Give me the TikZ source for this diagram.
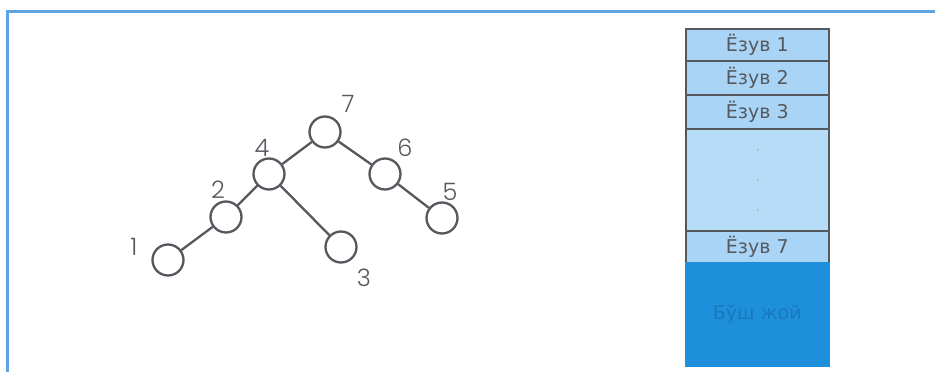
\documentclass[tikz,border=0pt]{standalone}
\usepackage{fontspec}
\setmainfont{DejaVu Sans}
\newfontfamily\digitfont{Poppins Light}
\definecolor{frameblue}{HTML}{5CA4E2}
\definecolor{cellblue}{HTML}{A9D4F6}
\definecolor{cellpale}{HTML}{B6DCF8}
\definecolor{darkcell}{HTML}{1E8FDA}
\definecolor{darktext}{HTML}{1A78BE}
\definecolor{inkgray}{HTML}{55595E}
\begin{document}
\begin{tikzpicture}[x=1pt,y=-1pt,
  treenode/.style={circle,draw=inkgray,line width=2.3pt,minimum size=31pt,inner sep=0pt,fill=white},
  treeedge/.style={draw=inkgray,line width=2.3pt},
  numlabel/.style={text=inkgray,font=\digitfont\fontsize{24}{24}\selectfont,inner sep=0pt},
  cell/.style={draw=inkgray,line width=1.6pt,fill=cellblue,text=inkgray,font=\fontsize{19}{19}\selectfont,minimum width=143pt,inner sep=0pt,anchor=north west},
  dotmark/.style={text=inkgray!40,font=\fontsize{18}{18}\selectfont,inner sep=0pt},
  framestroke/.style={draw=frameblue,line width=3pt}]
\useasboundingbox (0,0) rectangle (935,372);
\fill[white] (0,0) rectangle (935,372);
% frame
\coordinate (ftr) at (935,11);
\coordinate (ftl) at (7,11);
\coordinate (fbl) at (7,372);
\draw[framestroke] (ftr) -- (ftl) -- (fbl);
% stack
\node[cell,minimum height=32pt] (c1) at (685,28) {Ёзув 1};
\node[cell,minimum height=34pt] (c2) at (685,60) {Ёзув 2};
\node[cell,minimum height=34pt] (c3) at (685,94) {Ёзув 3};
\node[cell,minimum height=102pt,fill=cellpale] (cd) at (685,128) {};
\node[cell,minimum height=32pt] (c7) at (685,230) {Ёзув 7};
\node[cell,minimum height=103pt,fill=darkcell,draw=darkcell,text=darktext] (free) at (685,262) {Бўш жой};
\node[dotmark] (d1) at (758,150) {.};
\node[dotmark] (d2) at (758,180) {.};
\node[dotmark] (d3) at (758,210) {.};
% tree
\node[treenode] (n7) at (325,132) {};
\node[treenode] (n4) at (269,174) {};
\node[treenode] (n6) at (385,174) {};
\node[treenode] (n2) at (226,217) {};
\node[treenode] (n5) at (442,218) {};
\node[treenode] (n3) at (341,247) {};
\node[treenode] (n1) at (168,260) {};
\draw[treeedge] (n7) -- (n4);
\draw[treeedge] (n7) -- (n6);
\draw[treeedge] (n4) -- (n2);
\draw[treeedge] (n4) -- (n3);
\draw[treeedge] (n2) -- (n1);
\draw[treeedge] (n6) -- (n5);
\node[numlabel] (l7) at (348,104) {7};
\node[numlabel] (l4) at (262,148) {4};
\node[numlabel] (l6) at (405,148) {6};
\node[numlabel] (l2) at (218,190) {2};
\node[numlabel] (l5) at (450,192) {5};
\node[numlabel] (l1) at (134,247) {1};
\node[numlabel] (l3) at (364,278) {3};
\end{tikzpicture}
\end{document}
